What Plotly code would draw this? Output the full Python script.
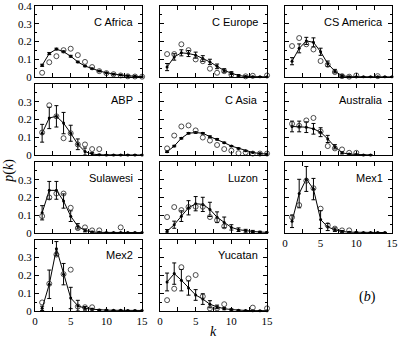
import plotly.graph_objects as go
from plotly.subplots import make_subplots

k = list(range(1, 16))

regions = ["C Africa", "C Europe", "CS America", "ABP", "C Asia", "Australia",
           "Sulawesi", "Luzon", "Mex1", "Mex2", "Yucatan"]

# model curve (dots + line), its error bars, observed (open circles)
cafrica_model = [0.067, 0.133, 0.158, 0.143, 0.118, 0.086, 0.063, 0.048, 0.035, 0.025, 0.017, 0.012, 0.008, 0.005, 0.003]
cafrica_err = [0.006, 0.006, 0.005, 0.005, 0.005, 0.004, 0.004, 0.003, 0.003, 0.002, 0.002, 0.002, 0.001, 0.001, 0.001]
cafrica_obs = [0.025, 0.084, 0.118, 0.152, 0.16, 0.124, 0.086, 0.057, 0.034, 0.023, 0.017, 0.01, 0.005, 0.004, 0.003]

ceurope_model = [0.057, 0.114, 0.137, 0.133, 0.124, 0.105, 0.086, 0.061, 0.038, 0.023, 0.01, 0.004, 0.003, 0.002, 0.002]
ceurope_err = [0.02, 0.018, 0.017, 0.017, 0.017, 0.016, 0.015, 0.013, 0.01, 0.008, 0.005, 0.003, 0.002, 0.002, 0.002]
ceurope_obs = [0.13, 0.13, 0.185, 0.152, 0.1, 0.09, 0.048, 0.025, 0.034, 0.015, None, 0.005, 0.008, None, 0.01]

csamerica_model = [0.09, 0.162, 0.204, 0.196, 0.143, 0.076, 0.034, 0.008, 0.003, 0.002, 0.002, 0.002, 0.002, 0.002, 0.002]
csamerica_err = [0.02, 0.025, 0.02, 0.025, 0.02, 0.015, 0.01, 0.005, 0.002, 0.001, 0.001, 0.001, 0.001, 0.001, 0.001]
csamerica_obs = [0.175, 0.22, 0.185, 0.156, 0.091, 0.07, 0.029, 0.006, 0.003, 0.01, None, None, 0.006, None, None]

abp_model = [0.123, 0.209, 0.218, 0.18, 0.123, 0.061, 0.02, 0.006, 0.002, 0.001, 0.001, 0.001, 0.001, 0.001, 0.001]
abp_err = [0.05, 0.06, 0.06, 0.06, 0.045, 0.03, 0.02, 0.008, 0.003, 0.001, 0.001, 0.001, 0.001, 0.001, 0.001]
abp_obs = [0.127, 0.28, 0.218, 0.095, 0.123, 0.06, 0.06, 0.034, 0.034, None, None, None, None, None, None]

casia_model = [0.019, 0.051, 0.095, 0.123, 0.127, 0.123, 0.104, 0.089, 0.07, 0.051, 0.038, 0.025, 0.015, 0.009, 0.006]
casia_err = [0.004, 0.004, 0.004, 0.004, 0.004, 0.004, 0.004, 0.004, 0.003, 0.003, 0.003, 0.002, 0.002, 0.002, 0.002]
casia_obs = [0.038, 0.11, 0.161, 0.167, 0.139, 0.099, 0.082, 0.057, 0.034, 0.025, 0.011, 0.015, 0.009, 0.009, 0.009]

australia_model = [0.161, 0.161, 0.157, 0.148, 0.129, 0.091, 0.047, 0.013, 0.006, 0.004, 0.001, 0.001, None, None, None]
australia_err = [0.03, 0.03, 0.03, 0.03, 0.025, 0.02, 0.012, 0.006, 0.003, 0.002, 0.001, 0.001, None, None, None]
australia_obs = [0.176, 0.165, 0.195, 0.209, 0.133, 0.051, 0.038, 0.032, 0.013, 0.013, None, None, None, None, None]

sulawesi_model = [0.114, 0.24, 0.24, 0.18, 0.095, 0.038, 0.015, 0.006, 0.004, 0.003, 0.003, 0.003, 0.003, 0.003, 0.003]
sulawesi_err = [0.04, 0.05, 0.05, 0.04, 0.03, 0.015, 0.008, 0.004, 0.002, 0.001, 0.001, 0.001, 0.001, 0.001, 0.001]
sulawesi_obs = [0.095, 0.2, 0.222, 0.222, 0.142, 0.028, 0.032, 0.015, 0.015, None, None, 0.032, None, None, None]

luzon_model = [0.01, 0.047, 0.095, 0.142, 0.165, 0.161, 0.133, 0.089, 0.06, 0.032, 0.019, 0.013, 0.009, 0.006, 0.004]
luzon_err = [0.01, 0.02, 0.03, 0.04, 0.04, 0.04, 0.04, 0.03, 0.03, 0.015, 0.01, 0.008, 0.006, 0.004, 0.003]
luzon_obs = [0.09, 0.146, 0.129, 0.146, 0.148, 0.148, 0.09, 0.072, 0.038, None, None, None, None, None, None]

mex1_model = [0.066, 0.222, 0.304, 0.247, 0.076, 0.034, 0.019, 0.009, 0.005, 0.004, 0.003, 0.003, 0.003, 0.003, None]
mex1_err = [0.035, 0.08, 0.07, 0.06, 0.05, 0.02, 0.01, 0.005, 0.003, 0.002, 0.001, 0.001, 0.001, 0.001, None]
mex1_obs = [0.089, 0.157, 0.294, 0.252, 0.137, 0.044, 0.025, 0.015, 0.015, None, None, None, None, None, None]

mex2_model = [0.015, 0.15, 0.35, 0.207, 0.073, 0.03, 0.015, 0.01, 0.006, 0.005, 0.004, 0.004, 0.003, 0.003, 0.003]
mex2_err = [0.012, 0.08, 0.04, 0.06, 0.06, 0.03, 0.01, 0.005, 0.003, 0.002, 0.001, 0.001, 0.001, 0.001, 0.001]
mex2_obs = [0.048, 0.153, 0.317, 0.207, 0.232, 0.025, 0.021, 0.021, None, None, None, None, None, None, None]

yucatan_model = [0.163, 0.21, 0.173, 0.129, 0.09, 0.067, 0.038, 0.023, 0.013, 0.008, 0.004, 0.003, 0.002, 0.002, 0.002]
yucatan_err = [0.05, 0.06, 0.06, 0.04, 0.03, 0.03, 0.02, 0.01, 0.006, 0.004, 0.002, 0.001, 0.001, 0.001, 0.001]
yucatan_obs = [0.061, 0.125, 0.246, 0.183, 0.202, 0.082, 0.015, 0.015, 0.038, None, None, None, 0.019, None, 0.015]

panels = [
    (cafrica_model, cafrica_err, cafrica_obs),
    (ceurope_model, ceurope_err, ceurope_obs),
    (csamerica_model, csamerica_err, csamerica_obs),
    (abp_model, abp_err, abp_obs),
    (casia_model, casia_err, casia_obs),
    (australia_model, australia_err, australia_obs),
    (sulawesi_model, sulawesi_err, sulawesi_obs),
    (luzon_model, luzon_err, luzon_obs),
    (mex1_model, mex1_err, mex1_obs),
    (mex2_model, mex2_err, mex2_obs),
    (yucatan_model, yucatan_err, yucatan_obs),
]

fig = make_subplots(rows=4, cols=3, horizontal_spacing=0.05, vertical_spacing=0.022)

serif = "Liberation Serif"
sans = "Liberation Sans"

for i, (name, (model, err, obs)) in enumerate(zip(regions, panels)):
    r, c = i // 3 + 1, i % 3 + 1
    fig.add_trace(go.Scatter(x=k, y=model, mode="lines+markers",
                             line=dict(color="black", width=1),
                             marker=dict(color="black", size=3),
                             error_y=dict(type="data", array=err, color="black",
                                          thickness=1, width=2),
                             cliponaxis=False, showlegend=False), row=r, col=c)
    fig.add_trace(go.Scatter(x=k, y=obs, mode="markers",
                             marker=dict(symbol="circle-open", color="#222", size=5,
                                         line=dict(width=0.8)),
                             cliponaxis=False, showlegend=False), row=r, col=c)
    fig.add_annotation(text=name, x=0.93, y=0.78, xref="x domain" if i == 0 else f"x{i+1} domain",
                       yref="y domain" if i == 0 else f"y{i+1} domain",
                       xanchor="right", yanchor="middle", showarrow=False,
                       font=dict(family=sans, size=11, color="black"))

axis_style = dict(showline=True, linecolor="black", linewidth=1, mirror="allticks",
                  ticks="inside", ticklen=4, tickcolor="black", showgrid=False, zeroline=False,
                  automargin=False, ticklabeloverflow="allow",
                  tickfont=dict(family=serif, size=11, color="black"))

for i in range(12):
    r, c = i // 3 + 1, i % 3 + 1
    if i == 11:
        fig.update_xaxes(visible=False, automargin=False, row=r, col=c)
        fig.update_yaxes(visible=False, automargin=False, row=r, col=c)
        continue
    show_x = (r == 4) or (r == 3 and c == 3)
    fig.update_xaxes(range=[0, 15], tickvals=[0, 5, 10, 15], showticklabels=show_x,
                     minor=dict(ticks="inside", dtick=2.5, tick0=0, ticklen=4, tickcolor="black"),
                     row=r, col=c, **axis_style)
    yt = [0, 0.1, 0.2, 0.3, 0.4] if r == 1 else [0, 0.1, 0.2, 0.3]
    fig.update_yaxes(range=[0, 0.4], tickvals=yt, ticktext=[f"{v:g}" for v in yt],
                     showticklabels=(c == 1),
                     minor=dict(ticks="inside", dtick=0.05, tick0=0, ticklen=2, tickcolor="black"),
                     row=r, col=c, **axis_style)

fig.add_annotation(text="<i>p</i>(<i>k</i>)", x=-26 / 357, y=0.46, xref="paper", yref="paper",
                   xanchor="center", yanchor="middle",
                   showarrow=False, textangle=-90, font=dict(family=serif, size=14, color="black"))
fig.add_annotation(text="<i>k</i>", x=0.5, y=-0.068, xref="paper", yref="paper",
                   xanchor="center", yanchor="middle",
                   showarrow=False, font=dict(family=serif, size=14, color="black"))
fig.add_annotation(text="(<i>b</i>)", x=0.93, y=0.046, xref="paper", yref="paper",
                   xanchor="center", yanchor="middle",
                   showarrow=False, font=dict(family=serif, size=14, color="black"))

fig.update_layout(template="none", width=399, height=338, margin=dict(l=35, r=7, t=6, b=27),
                  font=dict(family=serif, color="black"),
                  plot_bgcolor="white", paper_bgcolor="white")

# drop the default page margin so the figure sits at the window's corner
fig.write_html("out.html", config={"displayModeBar": False},
               post_script="document.body.style.margin='0px';")
